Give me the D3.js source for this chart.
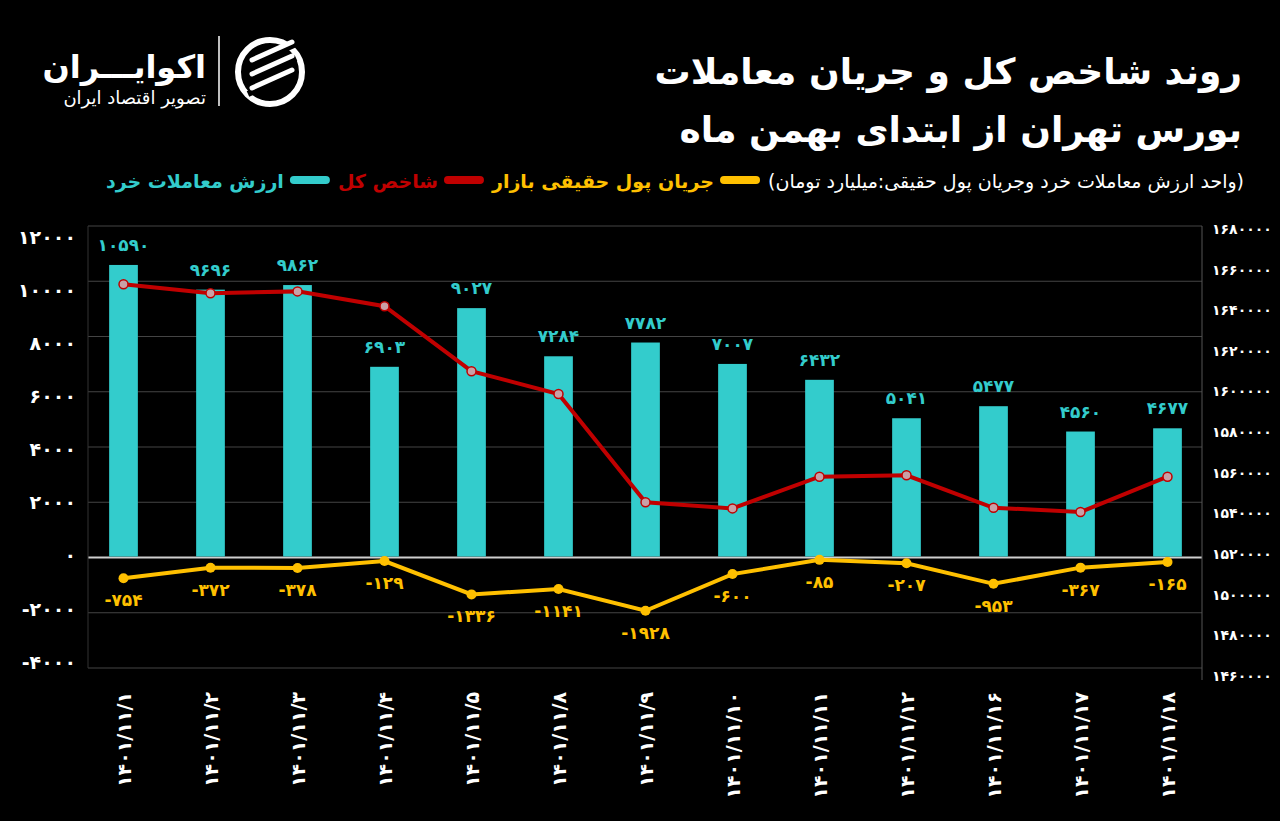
<!DOCTYPE html>
<html>
<head>
<meta charset="utf-8">
<script src="https://cdn.jsdelivr.net/npm/d3@7"></script>
<style>
  html, body { margin: 0; background: #000; }
  svg { display: block; font-family: "DejaVu Sans", "Noto Sans", sans-serif; }
</style>
</head>
<body>
<script>
// chart data
const dates = ["1401/11/1", "1401/11/2", "1401/11/3", "1401/11/4", "1401/11/5", "1401/11/8", "1401/11/9",
  "1401/11/10", "1401/11/11", "1401/11/12", "1401/11/16", "1401/11/17", "1401/11/18"];
const retailValue = [10590, 9696, 9862, 6903, 9027, 7284, 7782, 7007, 6432, 5041, 5477, 4560, 4677];
const indexValue = [1652800, 1648400, 1649300, 1642000, 1610000, 1598800, 1545500, 1542500, 1558100,
  1558800, 1542800, 1540700, 1558100];
const realMoneyFlow = [-754, -372, -378, -129, -1336, -1141, -1928, -600, -85, -207, -953, -367, -165];
const leftTicks = [12000, 10000, 8000, 6000, 4000, 2000, 0, -2000, -4000];
const rightTicks = d3.range(1460000, 1680001, 20000);

const W = 1280, H = 821;
const CYAN = "#33cccc", RED = "#c00000", YELLOW = "#ffc000";
const fa = (v) => String(v).replace(/\d/g, (d) => "۰۱۲۳۴۵۶۷۸۹"[d]);

const svg = d3.select("body").append("svg").attr("width", W).attr("height", H);
svg.append("rect").attr("width", W).attr("height", H).attr("fill", "#000");

const x = d3.scaleBand().domain(dates).range([80, 1211]).paddingInner(0.67).paddingOuter(0.335);
const y = d3.scaleLinear().domain([-4000, 12000]).range([668, 226]);
const yLabel = d3.scaleLinear().domain([-4000, 12000]).range([662, 237]);
const yR = d3.scaleLinear().domain([1460000, 1680000]).range([676, 229]);
const cx = (d) => x(d) + x.bandwidth() / 2;

// gridlines
svg.append("g").selectAll("line").data(leftTicks).join("line")
  .attr("x1", 88).attr("x2", 1202)
  .attr("y1", (d) => y(d)).attr("y2", (d) => y(d))
  .attr("stroke", (d) => d === 0 ? "#cfcfcf" : "#444")
  .attr("stroke-width", (d) => d === 0 ? 2 : 1);
svg.append("line").attr("x1", 88).attr("x2", 88).attr("y1", 226).attr("y2", 668).attr("stroke", "#333");
svg.append("line").attr("x1", 1202).attr("x2", 1202).attr("y1", 226).attr("y2", 680).attr("stroke", "#555");

// axis labels
svg.append("g").selectAll("text").data(leftTicks).join("text")
  .attr("x", 76).attr("y", (d) => yLabel(d)).attr("dy", "0.35em")
  .attr("text-anchor", "end").attr("fill", "#fff").attr("font-size", 19).attr("font-weight", "bold")
  .text((d) => fa(d));
svg.append("g").selectAll("text").data(rightTicks).join("text")
  .attr("x", 1212).attr("y", (d) => yR(d)).attr("dy", "0.35em")
  .attr("fill", "#fff").attr("font-size", 14).attr("font-weight", "bold")
  .text((d) => fa(d));
svg.append("g").selectAll("text").data(dates).join("text")
  .attr("transform", (d) => `translate(${cx(d) + 7},692) rotate(-90)`)
  .attr("text-anchor", "end").attr("fill", "#fff").attr("font-size", 19).attr("font-weight", "bold")
  .text((d) => fa(d));

// bars
svg.append("g").selectAll("rect").data(retailValue).join("rect")
  .attr("x", (d, i) => x(dates[i])).attr("width", x.bandwidth())
  .attr("y", (d) => y(d)).attr("height", (d) => y(0) - y(d) - 1)
  .attr("fill", CYAN);
svg.append("g").selectAll("text").data(retailValue).join("text")
  .attr("x", (d, i) => cx(dates[i])).attr("y", (d) => y(d) - 14)
  .attr("text-anchor", "middle").attr("fill", CYAN).attr("font-size", 17).attr("font-weight", "bold")
  .text((d) => fa(d));

// index line (right axis)
const idxLine = d3.line().x((d, i) => cx(dates[i])).y((d) => yR(d));
svg.append("path").datum(indexValue).attr("d", idxLine)
  .attr("fill", "none").attr("stroke", RED).attr("stroke-width", 4);
svg.append("g").selectAll("circle").data(indexValue).join("circle")
  .attr("cx", (d, i) => cx(dates[i])).attr("cy", (d) => yR(d)).attr("r", 4.5)
  .attr("fill", "#c9a0a6").attr("stroke", RED).attr("stroke-width", 1.5);

// real money flow line
const flowLine = d3.line().x((d, i) => cx(dates[i])).y((d) => y(d));
svg.append("path").datum(realMoneyFlow).attr("d", flowLine)
  .attr("fill", "none").attr("stroke", YELLOW).attr("stroke-width", 4);
svg.append("g").selectAll("circle").data(realMoneyFlow).join("circle")
  .attr("cx", (d, i) => cx(dates[i])).attr("cy", (d) => y(d)).attr("r", 5).attr("fill", YELLOW);
svg.append("g").selectAll("text").data(realMoneyFlow).join("text")
  .attr("x", (d, i) => cx(dates[i])).attr("y", (d) => y(d) + 28)
  .attr("text-anchor", "middle").attr("fill", YELLOW).attr("font-size", 17).attr("font-weight", "bold")
  .text((d) => fa(d));

// rtl text anchored at its right edge
const rtl = (sel) => sel.attr("direction", "rtl").attr("text-anchor", "start");

// title
svg.append("text").attr("x", 1242).attr("y", 84).call(rtl)
  .attr("fill", "#fff").attr("font-size", 36).attr("font-weight", "bold")
  .text("روند شاخص کل و جریان معاملات");
svg.append("text").attr("x", 1242).attr("y", 142).call(rtl)
  .attr("fill", "#fff").attr("font-size", 36).attr("font-weight", "bold")
  .text("بورس تهران از ابتدای بهمن ماه");

// legend, laid out right to left
const legendItems = [
  { text: "(واحد ارزش معاملات خرد وجریان پول حقیقی:میلیارد تومان)", color: "#fff", swatch: null, weight: "normal" },
  { text: "جریان پول حقیقی بازار", color: YELLOW, swatch: YELLOW, weight: "bold" },
  { text: "شاخص کل", color: RED, swatch: RED, weight: "bold" },
  { text: "ارزش معاملات خرد", color: CYAN, swatch: CYAN, weight: "bold" },
];
let lx = 1244;
const lg = svg.append("g");
legendItems.forEach((it) => {
  if (it.swatch) {
    lg.append("rect").attr("x", lx - 40).attr("y", 176).attr("width", 40).attr("height", 8)
      .attr("rx", 4).attr("fill", it.swatch);
    lx -= 46;
  }
  const t = lg.append("text").attr("x", lx).attr("y", 188).call(rtl)
    .attr("fill", it.color).attr("font-size", 19)
    .attr("font-weight", it.weight).text(it.text);
  lx -= t.node().getComputedTextLength() + 8;
});

// logo
const logo = svg.append("g");
logo.append("text").attr("x", 206).attr("y", 78).call(rtl)
  .attr("fill", "#fff").attr("font-size", 32).attr("font-weight", "bold").text("اکوایـــران");
logo.append("text").attr("x", 206).attr("y", 104).call(rtl)
  .attr("fill", "#fff").attr("font-size", 18).text("تصویر اقتصاد ایران");
logo.append("line").attr("x1", 219).attr("x2", 219).attr("y1", 36).attr("y2", 106)
  .attr("stroke", "#fff").attr("stroke-width", 1.5);
logo.append("circle").attr("cx", 270).attr("cy", 72).attr("r", 32).attr("fill", "none")
  .attr("stroke", "#fff").attr("stroke-width", 6);
[-14, 0, 14].forEach((o) => {
  logo.append("line").attr("x1", 248).attr("y1", 80 + o).attr("x2", 296).attr("y2", 58 + o)
    .attr("stroke", "#000").attr("stroke-width", 6);
  logo.append("line").attr("x1", 252).attr("y1", 74 + o).attr("x2", 292).attr("y2", 56 + o)
    .attr("stroke", "#fff").attr("stroke-width", 5).attr("stroke-linecap", "round");
});
</script>
</body>
</html>
